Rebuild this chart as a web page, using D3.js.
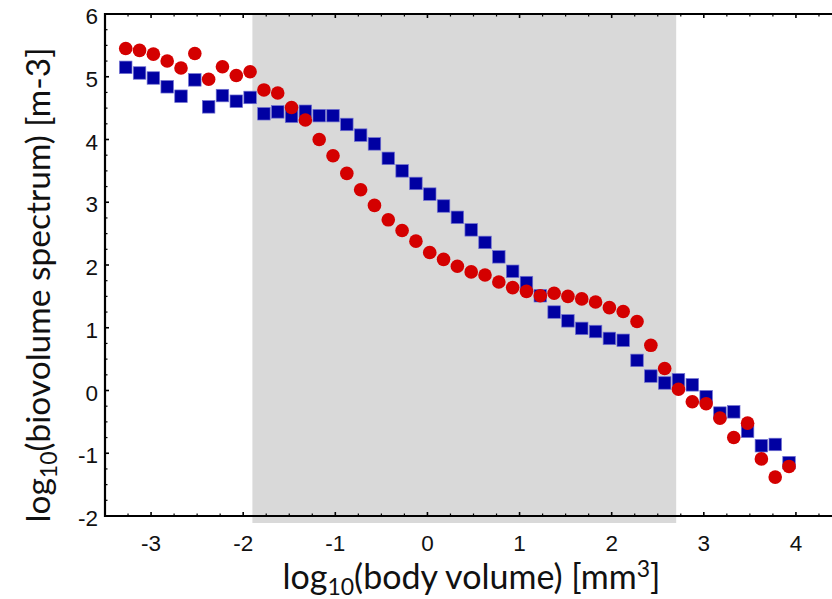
<!DOCTYPE html>
<html>
<head>
<meta charset="utf-8">
<script src="https://cdn.jsdelivr.net/npm/d3@7"></script>
<style>
  html, body { margin: 0; padding: 0; background: #fff; }
  svg { display: block; }
</style>
</head>
<body>
<svg id="chart" width="832" height="599"></svg>
<script>
// ---- data ----
const logVolume = [-3.275, -3.125, -2.975, -2.825, -2.675, -2.525, -2.375, -2.225, -2.075, -1.925,
  -1.775, -1.625, -1.475, -1.325, -1.175, -1.025, -0.875, -0.725, -0.575, -0.425,
  -0.275, -0.125, 0.025, 0.175, 0.325, 0.475, 0.625, 0.775, 0.925, 1.075,
  1.225, 1.375, 1.525, 1.675, 1.825, 1.975, 2.125, 2.275, 2.425, 2.575,
  2.725, 2.875, 3.025, 3.175, 3.325, 3.475, 3.625, 3.775, 3.925];
const seriesSquares = [5.15, 5.06, 4.98, 4.84, 4.69, 4.95, 4.52, 4.70, 4.61, 4.67,
  4.41, 4.44, 4.37, 4.45, 4.38, 4.38, 4.24, 4.07, 3.93, 3.70,
  3.50, 3.30, 3.13, 2.94, 2.76, 2.56, 2.36, 2.13, 1.90, 1.72,
  1.51, 1.25, 1.11, 0.99, 0.94, 0.83, 0.80, 0.48, 0.23, 0.12,
  0.17, 0.09, -0.10, -0.36, -0.34, -0.65, -0.88, -0.86, -1.15];
const seriesCircles = [5.45, 5.42, 5.36, 5.25, 5.14, 5.37, 4.96, 5.16, 5.02, 5.08,
  4.79, 4.74, 4.51, 4.31, 4.00, 3.74, 3.46, 3.20, 2.95, 2.72,
  2.55, 2.38, 2.20, 2.09, 1.98, 1.89, 1.84, 1.73, 1.64, 1.58,
  1.51, 1.55, 1.50, 1.46, 1.41, 1.32, 1.26, 1.10, 0.72, 0.35,
  0.02, -0.18, -0.21, -0.44, -0.75, -0.52, -1.09, -1.38, -1.21];
const shadedRange = [-1.90, 2.70];
const xTicks = [-3, -2, -1, 0, 1, 2, 3, 4];
const yTicks = [6, 5, 4, 3, 2, 1, 0, -1, -2];
const xDomain = [-3.5, 4.5];
const yDomain = [-2, 6];

// ---- layout ----
const svg = d3.select("#chart");
const mLeft = 105, mRight = 842, mTop = 14, mBottom = 516;
const x = d3.scaleLinear().domain(xDomain).range([mLeft, mRight]);
const y = d3.scaleLinear().domain(yDomain).range([mBottom, mTop]);

// shaded band
svg.append("rect")
  .attr("x", x(shadedRange[0]))
  .attr("y", y(yDomain[1]))
  .attr("width", x(shadedRange[1]) - x(shadedRange[0]))
  .attr("height", y(yDomain[0]) - y(yDomain[1]) + 7)
  .attr("fill", "#d9d9d9");

// minor ticks
const xMinor = d3.range(xDomain[0], xDomain[1] + 0.001, 0.25);
const yMinor = d3.range(yDomain[0], yDomain[1] + 0.001, 0.25);
const tickG = svg.append("g").attr("stroke", "#000");
xMinor.forEach(v => {
  const major = Math.abs(v - Math.round(v)) < 1e-6;
  const len = major ? 4 : 2.5;
  tickG.append("line").attr("x1", x(v)).attr("x2", x(v)).attr("y1", mBottom).attr("y2", mBottom - len).attr("stroke-width", major ? 1.6 : 1.2);
  tickG.append("line").attr("x1", x(v)).attr("x2", x(v)).attr("y1", mTop).attr("y2", mTop + len).attr("stroke-width", major ? 1.6 : 1.2);
});
yMinor.forEach(v => {
  const major = Math.abs(v - Math.round(v)) < 1e-6;
  const len = major ? 4 : 2.5;
  tickG.append("line").attr("y1", y(v)).attr("y2", y(v)).attr("x1", mLeft).attr("x2", mLeft + len).attr("stroke-width", major ? 1.6 : 1.2);
});

// axis lines
svg.append("line").attr("x1", mLeft).attr("x2", mLeft).attr("y1", mTop - 1).attr("y2", mBottom + 1).attr("stroke", "#000").attr("stroke-width", 2.2);
svg.append("line").attr("x1", mLeft - 1).attr("x2", mRight).attr("y1", mBottom).attr("y2", mBottom).attr("stroke", "#000").attr("stroke-width", 2.2);
svg.append("line").attr("x1", mLeft - 1).attr("x2", mRight).attr("y1", mTop).attr("y2", mTop).attr("stroke", "#000").attr("stroke-width", 2.2);

// tick labels
svg.append("g").selectAll("text").data(xTicks).join("text")
  .attr("x", d => x(d))
  .attr("y", 551)
  .attr("text-anchor", "middle")
  .attr("font-family", "Liberation Sans, Arial, sans-serif")
  .attr("font-size", 22.5)
  .attr("fill", "#111")
  .text(d => d);
svg.append("g").selectAll("text").data(yTicks).join("text")
  .attr("x", 98)
  .attr("y", d => y(d) + 10)
  .attr("text-anchor", "end")
  .attr("font-family", "Liberation Sans, Arial, sans-serif")
  .attr("font-size", 22.5)
  .attr("fill", "#111")
  .text(d => d);

// data points
const sq = 12.5;
svg.append("g").selectAll("rect").data(logVolume.map((v, i) => [v, seriesSquares[i]])).join("rect")
  .attr("x", d => x(d[0]) - sq / 2)
  .attr("y", d => y(d[1]) - sq / 2)
  .attr("width", sq).attr("height", sq)
  .attr("fill", "#0000a2")
  .attr("stroke", "#6f6fd0").attr("stroke-width", 0.7);
svg.append("g").selectAll("circle").data(logVolume.map((v, i) => [v, seriesCircles[i]])).join("circle")
  .attr("cx", d => x(d[0]))
  .attr("cy", d => y(d[1]))
  .attr("r", 6.8)
  .attr("fill", "#d40000");

// axis titles
const titleFont = "Lato, 'Open Sans', sans-serif";
const xt = svg.append("text")
  .attr("x", (mLeft + mRight) / 2 - 2)
  .attr("y", 589)
  .attr("text-anchor", "middle")
  .attr("font-family", titleFont)
  .attr("font-size", 34)
  .attr("fill", "#111");
xt.append("tspan").text("log");
xt.append("tspan").attr("font-size", 23).attr("dy", 6).text("10");
xt.append("tspan").attr("dy", -6).text("(body volume) [mm");
xt.append("tspan").attr("font-size", 23).attr("dy", -12).text("3");
xt.append("tspan").attr("dy", 12).text("]");

const yt = svg.append("text")
  .attr("transform", "translate(50," + 285 + ") rotate(-90)")
  .attr("text-anchor", "middle")
  .attr("font-family", titleFont)
  .attr("font-size", 33.5)
  .attr("fill", "#111");
yt.append("tspan").text("log");
yt.append("tspan").attr("font-size", 23).attr("dy", 7).text("10");
yt.append("tspan").attr("dy", -7).text("(biovolume spectrum) [m-3]");
</script>
</body>
</html>
